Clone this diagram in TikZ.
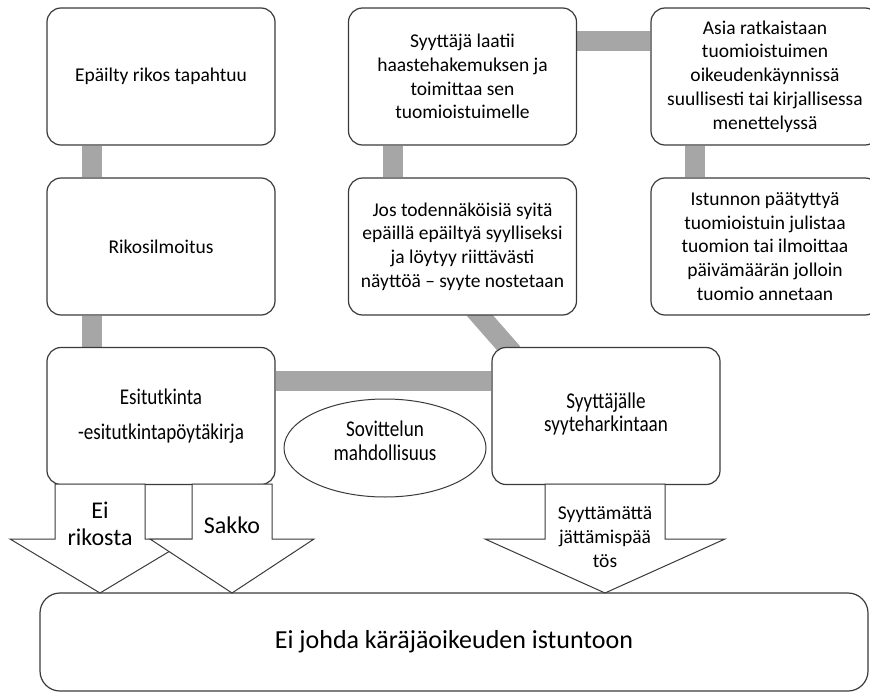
\documentclass[tikz,border=0pt]{standalone}
\usepackage{fontspec}
\setmainfont{Carlito}
\newfontfamily\narrowfont[FakeStretch=0.85]{Carlito}
\usetikzlibrary{backgrounds,shapes.geometric}

\definecolor{linkgray}{HTML}{A6A6A6}
\definecolor{edgegray}{HTML}{3A3A3A}

\tikzset{
  stagebox/.style={draw=edgegray, line width=1.2pt, rounded corners=14pt, fill=white,
    minimum width=228pt, minimum height=137pt, align=center, inner sep=2pt,
    font=\fontsize{19.5}{23.8}\selectfont},
  narrowtext/.style={font=\narrowfont\fontsize{22.5}{23.5}\selectfont},
  link/.style={linkgray, line width=20pt},
  blockarrow/.style={draw=edgegray, line width=1pt, fill=white, line join=miter},
  arrowlabel/.style={align=center, inner sep=0pt, font=\fontsize{24}{27}\selectfont},
}

% down arrow: centre x, half shaft, half head
\newcommand\bigarrow[3]{%
  \draw[blockarrow] (#1-#2,484) -- (#1+#2,484) -- (#1+#2,539) -- (#1+#3,539)
    -- (#1,593) -- (#1-#3,539) -- (#1-#2,539) -- cycle;}

\begin{document}
\begin{tikzpicture}[x=1pt,y=-1pt]
\useasboundingbox (0,0) rectangle (870,693);
\clip (0,0) rectangle (870,693);

% left column
\node[stagebox] (rikos) at (161,76.5) {Epäilty rikos tapahtuu};
\node[stagebox] (ilmoitus) at (161,246.5) {Rikosilmoitus};
\node[stagebox, narrowtext] (esitutkinta) at (161,416)
  {Esitutkinta\\[12pt]-esitutkintapöytäkirja};

% middle column
\node[stagebox] (haaste) at (462.5,76.5)
  {Syyttäjä laatii\\haastehakemuksen ja\\toimittaa sen\\tuomioistuimelle};
\node[stagebox] (syyte) at (462.5,246.5)
  {Jos todennäköisiä syitä\\epäillä epäiltyä syylliseksi\\ja löytyy riittävästi\\näyttöä – syyte nostetaan};
\node[stagebox] (harkinta) at (606,416) {};
\node[narrowtext, align=center] (harkinta-teksti) at ([yshift=2pt]harkinta.center)
  {Syyttäjälle\\syyteharkintaan};

% right column
\node[stagebox] (ratkaisu) at (765,76.5)
  {Asia ratkaistaan\\tuomioistuimen\\oikeudenkäynnissä\\suullisesti tai kirjallisessa\\menettelyssä};
\node[stagebox] (tuomio) at (765,246.5)
  {Istunnon päätyttyä\\tuomioistuin julistaa\\tuomion tai ilmoittaa\\päivämäärän jolloin\\tuomio annetaan};

\node[ellipse, draw=edgegray, line width=1pt, fill=white, minimum width=202pt,
  minimum height=98pt] (sovittelu) at (385,448) {};
\node[narrowtext, align=center] (sovittelu-teksti) at ([yshift=7pt]sovittelu.center)
  {Sovittelun\\mahdollisuus};

% bottom
\node[stagebox, minimum width=828pt, minimum height=98pt, rounded corners=20pt,
  font=\fontsize{26}{30}\selectfont] (istunto) at (454,642)
  {Ei johda käräjäoikeuden istuntoon};

\bigarrow{100}{45}{90}
\bigarrow{232}{40}{82}
\bigarrow{605}{60}{120}
\node[arrowlabel] (eirikosta) at (100,524) {Ei\\rikosta};
\node[arrowlabel] (sakko) at (232,525) {Sakko};
\node[arrowlabel, font=\fontsize{19.5}{24}\selectfont] (jattaminen) at (605,537)
  {Syyttämättä\\jättämispää\\tös};

\begin{pgfonlayer}{background}
\draw[link] ([xshift=46pt]rikos.south west) -- ([xshift=46pt]ilmoitus.north west);
\draw[link] ([xshift=46pt]ilmoitus.south west) -- ([xshift=46pt]esitutkinta.north west);
\draw[link] ([yshift=-34pt]esitutkinta.north east) -- ([yshift=-34pt]harkinta.north west);
\draw[link, shorten <=-8pt, shorten >=-8pt] ([xshift=132pt]syyte.south west) -- ([xshift=16pt]harkinta.north west);
\draw[link] ([xshift=45pt]haaste.south west) -- ([xshift=45pt]syyte.north west);
\draw[link] ([yshift=-33.5pt]haaste.north east) -- ([yshift=-33.5pt]ratkaisu.north west);
\draw[link] ([xshift=45pt]ratkaisu.south west) -- ([xshift=45pt]tuomio.north west);
\end{pgfonlayer}
\end{tikzpicture}
\end{document}
